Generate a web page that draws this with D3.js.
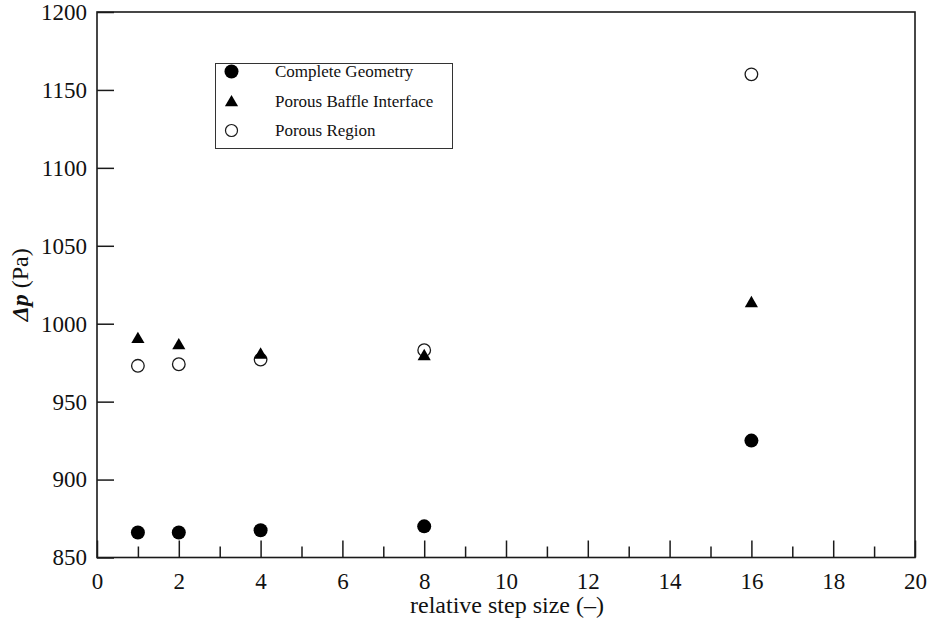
<!DOCTYPE html>
<html><head><meta charset="utf-8">
<script src="https://cdn.jsdelivr.net/npm/d3@7"></script>
<style>body{margin:0;background:#fff}text{font-family:"Liberation Serif","Times New Roman",serif;fill:#111}</style>
</head><body><svg id="c" width="930" height="625"></svg>
<script>
const stepSizes = [1, 2, 4, 8, 16];
const completeGeometry = [866, 866, 867.5, 870, 925];
const porousBaffle = [990, 986, 980, 979, 1013];
const porousRegion = [973, 974, 977, 983, 1160];
const seriesNames = ["Complete Geometry", "Porous Baffle Interface", "Porous Region"];
const xTicks = d3.range(0, 21, 2);
const yTicks = d3.range(850, 1201, 50);

const svg = d3.select("#c");
const L = 97, R = 915, T = 12, B = 557.5;
const x = d3.scaleLinear().domain([0, 20]).range([L, R]);
const y = d3.scaleLinear().domain([850, 1200]).range([B, T]);
const col = "#1a1a1a";
const serif = "'Liberation Serif', 'Times New Roman', serif";

// frame
svg.append("rect").attr("x", L).attr("y", T).attr("width", R - L).attr("height", B - T)
  .attr("fill", "none").attr("stroke", col).attr("stroke-width", 1.6);

// x axis
const xAxis = d3.axisBottom(x).tickValues(xTicks).tickSize(-17).tickFormat(d3.format("d"));
const gx = svg.append("g").attr("transform", `translate(0,${B})`).call(xAxis)
  .attr("font-family", serif).attr("font-size", 23);
gx.select(".domain").remove();
gx.selectAll(".tick line").attr("stroke", col).attr("stroke-width", 1.5);
gx.selectAll("text").attr("fill", "#111").attr("dy", "0.71em").attr("y", 15).style("font-family", serif);
const xMinor = d3.axisBottom(x).tickValues(d3.range(1, 20, 2)).tickSize(-11).tickFormat("");
const gxm = svg.append("g").attr("transform", `translate(0,${B})`).call(xMinor);
gxm.select(".domain").remove();
gxm.selectAll(".tick line").attr("stroke", col).attr("stroke-width", 1.5);

// y axis
const yAxis = d3.axisLeft(y).tickValues(yTicks).tickSize(-17).tickFormat(d3.format("d"));
const gy = svg.append("g").attr("transform", `translate(${L},0)`).call(yAxis)
  .attr("font-family", serif).attr("font-size", 23);
gy.select(".domain").remove();
gy.selectAll(".tick line").attr("stroke", col).attr("stroke-width", 1.5);
gy.selectAll("text").attr("fill", "#111").attr("x", -10).style("font-family", serif);

// axis titles
svg.append("text").attr("x", 507).attr("y", 613).attr("text-anchor", "middle")
  .attr("font-size", 24).text("relative step size (–)");
const yl = svg.append("text").attr("transform", `translate(28,${(T + B) / 2}) rotate(-90)`)
  .attr("text-anchor", "middle").attr("font-size", 24);
yl.append("tspan").attr("font-weight", "bold").attr("font-style", "italic").text("Δp");
yl.append("tspan").text(" (Pa)");

// markers
const tri = d3.symbol().type(d3.symbolTriangle).size(75);
svg.append("g").selectAll("circle").data(stepSizes.map((s, i) => [s, porousRegion[i]])).join("circle")
  .attr("cx", d => x(d[0])).attr("cy", d => y(d[1])).attr("r", 6.3)
  .attr("fill", "#fff").attr("stroke", col).attr("stroke-width", 1.3);
svg.append("g").selectAll("path").data(stepSizes.map((s, i) => [s, porousBaffle[i]])).join("path")
  .attr("d", tri).attr("transform", d => `translate(${x(d[0])},${y(d[1])})`).attr("fill", "#000");
svg.append("g").selectAll("circle").data(stepSizes.map((s, i) => [s, completeGeometry[i]])).join("circle")
  .attr("cx", d => x(d[0])).attr("cy", d => y(d[1])).attr("r", 7).attr("fill", "#000");

// legend
const lg = svg.append("g");
lg.append("rect").attr("x", 215.5).attr("y", 63.5).attr("width", 237).attr("height", 85)
  .attr("fill", "#fff").attr("stroke", "#333").attr("stroke-width", 1);
const rows = [71.5, 101.5, 130.5];
lg.append("circle").attr("cx", 231.5).attr("cy", rows[0]).attr("r", 7).attr("fill", "#000");
lg.append("path").attr("d", tri).attr("transform", `translate(231.5,${rows[1] + 1})`).attr("fill", "#000");
lg.append("circle").attr("cx", 231.5).attr("cy", rows[2]).attr("r", 6).attr("fill", "#fff").attr("stroke", col).attr("stroke-width", 1.2);
lg.selectAll("text.l").data(seriesNames).join("text").attr("class", "l")
  .attr("x", 275).attr("y", (d, i) => rows[i]).attr("dy", "0.35em").attr("font-size", 17).text(d => d);
</script></body></html>
